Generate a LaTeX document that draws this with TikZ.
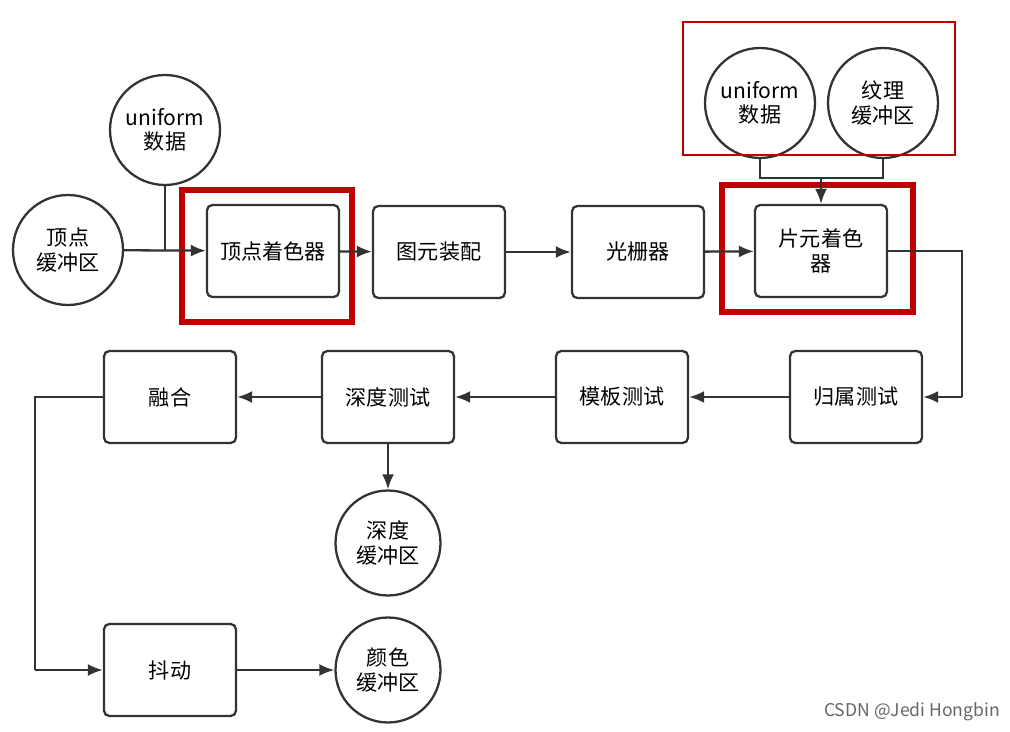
\documentclass[tikz,border=0pt]{standalone}
\usepackage{fontspec}
\setmainfont{Noto Sans CJK SC}
\usetikzlibrary{arrows.meta,positioning}
\tikzset{
  stage/.style={draw=black!80, line width=1.3pt, rounded corners=3pt, minimum width=2.64cm, minimum height=1.84cm, align=center, font=\large},
  buffer/.style={draw=black!80, line width=1.3pt, circle, minimum size=2.1cm, align=center, inner sep=0pt, font=\large},
  flow/.style={line width=1.3pt, draw=black!80, -{Latex[length=3mm,width=2.4mm]}},
  hilite/.style={draw=red!75!black, line width=3.5pt}
}
\begin{document}
\begin{tikzpicture}[x=0.02cm, y=-0.02cm]
  \useasboundingbox (0,0) rectangle (1010,732);
  % buffers
  \node[buffer, minimum size=2.2cm] (vbuf) at (68,250) {顶点\\缓冲区};
  \node[buffer, minimum size=2.2cm] (vuni) at (165,130) {uniform\\数据};
  \node[buffer, minimum size=2.2cm] (funi) at (760,103) {uniform\\数据};
  \node[buffer, minimum size=2.2cm] (tex) at (883,103) {纹理\\缓冲区};
  \node[buffer] (dbuf) at (388,543) {深度\\缓冲区};
  \node[buffer] (cbuf) at (388,670) {颜色\\缓冲区};
  % stages
  \node[stage] (vs) at (273,251) {顶点着色器};
  \node[stage] (asm) at (439,252) {图元装配};
  \node[stage] (rast) at (638,252) {光栅器};
  \node[stage] (fs) at (821,251) {片元着色\\器};
  \node[stage] (own) at (856,397) {归属测试};
  \node[stage] (sten) at (622,397) {模板测试};
  \node[stage] (depth) at (388,397) {深度测试};
  \node[stage] (blend) at (170,397) {融合};
  \node[stage] (dith) at (170,670) {抖动};
  % highlights
  \draw[hilite] (182,190) rectangle (352,322);
  \draw[hilite] (722,185) rectangle (913,312);
  \draw[red!75!black, line width=0.8pt] (683,22) rectangle (955,155);
  % helper points
  \coordinate (vjoin) at (165,251);
  \coordinate (fjoin) at (821,178);
  \coordinate (fsr) at (962,251);
  \coordinate (ownr) at (962,397);
  \coordinate (blendl) at (35,397);
  \coordinate (dithl) at (35,670);
  % connectors
  \draw[line width=1.3pt, black!80] (vuni) -- (vjoin);
  \draw[flow] (vbuf) -- (vs);
  \draw[flow] (vs) -- (asm);
  \draw[flow] (asm) -- (rast);
  \draw[flow] (rast) -- (fs);
  \draw[line width=1.3pt, black!80] (funi) |- (fjoin) -| (tex);
  \draw[flow] (fjoin) -- (fs);
  \draw[line width=1.3pt, black!80] (fs) -- (fsr) -- (ownr);
  \draw[flow] (ownr) -- (own);
  \draw[flow] (own) -- (sten);
  \draw[flow] (sten) -- (depth);
  \draw[flow] (depth) -- (blend);
  \draw[flow] (depth) -- (dbuf);
  \draw[line width=1.3pt, black!80] (blend) -- (blendl) -- (dithl);
  \draw[flow] (dithl) -- (dith);
  \draw[flow] (dith) -- (cbuf);
  \node[text=black!60, font=\normalsize] (mark) at (912,712) {CSDN @Jedi Hongbin};
\end{tikzpicture}
\end{document}
